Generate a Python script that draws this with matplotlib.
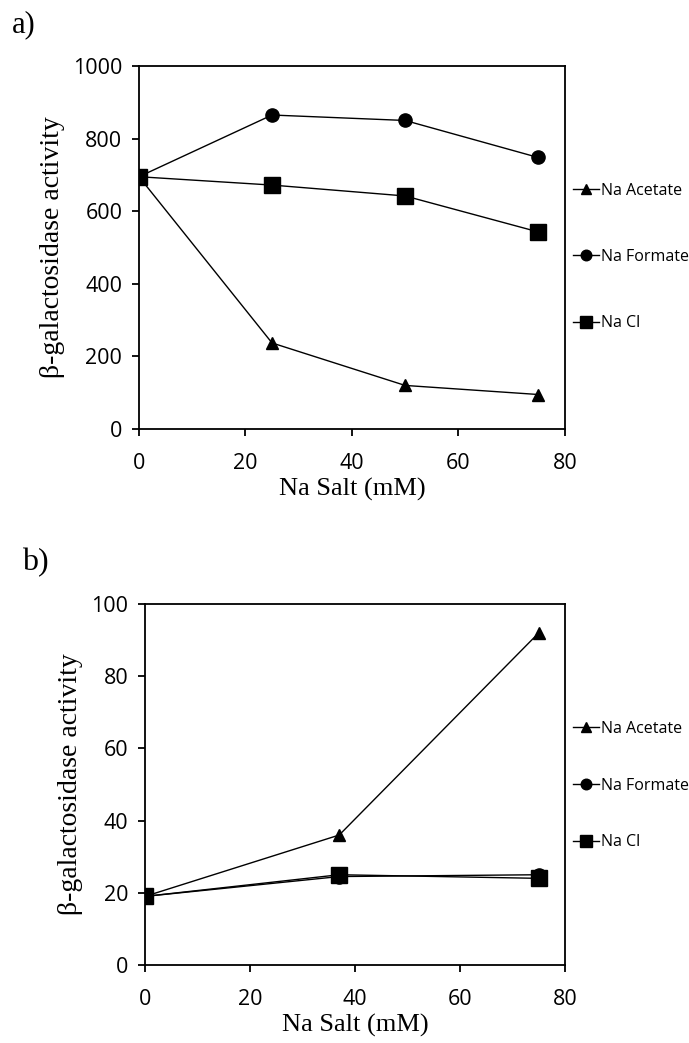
import numpy as np
import matplotlib
matplotlib.use('Agg')
import matplotlib.pyplot as plt

# panel a data
salt_a = [0, 25, 50, 75]
acetate_a = [695, 237, 120, 95]
formate_a = [695, 865, 850, 748]
nacl_a = [695, 672, 642, 543]

# panel b data
salt_b = [0, 37, 75]
acetate_b = [19, 36, 92]
formate_b = [19, 24.5, 25]
nacl_b = [19, 25, 24]

labels = ['Na Acetate', 'Na Formate', 'Na Cl']
markers = ['^', 'o', 's']
msizes = [9, 9.5, 11]

tick_font = 'Open Sans'
serif = 'Liberation Serif'

fig = plt.figure(figsize=(6.89, 10.43), dpi=100)


def panel(rect, x, series, ymax, ystep, leg_y, spacing, tag, tag_xy, tag_size):
    ax = fig.add_axes(rect)
    for ys, lab, m, ms in zip(series, labels, markers, msizes):
        ax.plot(x, ys, color='black', lw=1, marker=m, ms=ms, label=lab)
    ax.set_xlim(0, 80)
    ax.set_ylim(0, ymax)
    ax.set_xticks(np.arange(0, 81, 20))
    ax.set_yticks(np.arange(0, ymax + 1, ystep))
    for sp in ax.spines.values():
        sp.set_linewidth(1.3)
    ax.tick_params(direction='out', length=5, width=1.3, labelsize=15.5)
    ax.tick_params(axis='x', pad=12)
    ax.tick_params(axis='y', pad=7)
    for t in ax.get_xticklabels() + ax.get_yticklabels():
        t.set_fontfamily(tick_font)
    ax.set_xlabel('Na Salt (mM)', family=serif, fontsize=19, labelpad=3)
    ax.set_ylabel('β-galactosidase activity', family=serif, fontsize=20, labelpad=6)
    ax.legend(loc='upper left', bbox_to_anchor=(1.02, leg_y), frameon=False,
              borderaxespad=0, borderpad=0, handlelength=1.6,
              handletextpad=0.15, labelspacing=spacing, markerscale=0.8,
              prop={'family': tick_font, 'size': 11.5})
    fig.text(tag_xy[0], tag_xy[1], tag, family=serif, fontsize=tag_size, va='top')
    return ax


panel([0.2017, 0.5887, 0.618, 0.348], salt_a, [acetate_a, formate_a, nacl_a],
      1000, 200, 0.679, 3.15, 'a)', (0.017, 0.99), 22)
panel([0.2104, 0.0748, 0.6096, 0.3461], salt_b, [acetate_b, formate_b, nacl_b],
      100, 20, 0.676, 2.55, 'b)', (0.032, 0.475), 23)

fig.savefig('out.png', dpi=100)
